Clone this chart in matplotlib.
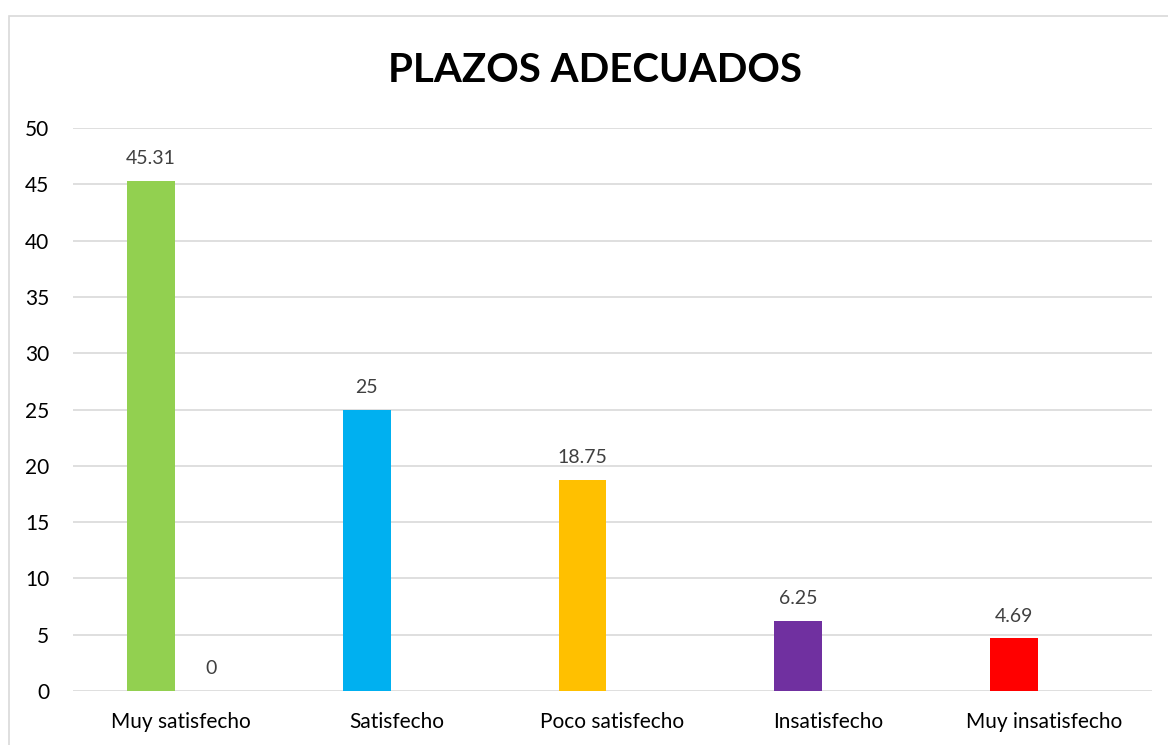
import matplotlib
matplotlib.use("Agg")
import matplotlib.pyplot as plt
from matplotlib.patches import Rectangle
import numpy as np

categories = ["Muy satisfecho", "Satisfecho", "Poco satisfecho", "Insatisfecho", "Muy insatisfecho"]
values = [45.31, 25, 18.75, 6.25, 4.69]
values2 = [0, None, None, None, None]
value_labels = ["45.31", "25", "18.75", "6.25", "4.69"]
colors = ["#92D050", "#00B0F0", "#FFC000", "#7030A0", "#FF0000"]
yticks = [0, 5, 10, 15, 20, 25, 30, 35, 40, 45, 50]

plt.rcParams['font.family'] = ['Lato', 'DejaVu Sans']

fig = plt.figure(figsize=(11.68, 7.45), dpi=100)
fig.patch.set_facecolor("white")
# chart border
fig.add_artist(Rectangle((9/1168, -0.1), 1.2, (745-16)/745 + 0.1, transform=fig.transFigure,
                         fill=False, edgecolor="#D9D9D9", linewidth=1.2))

ax = fig.add_axes([73/1168, 1 - 691/745, (1152-73)/1168, (691-128)/745])
x = np.arange(len(categories))
w = 0.222
off = 0.139
ax.bar(x - off, values, width=w, color=colors, zorder=3)
for xi, v, lab in zip(x, values, value_labels):
    ax.text(xi - off, v + 1.2, lab, ha="center", va="bottom", fontsize=14, color="#404040")
for xi, v in zip(x, values2):
    if v is not None:
        ax.bar(xi + off, v, width=w, color="#4472C4", zorder=3)
        ax.text(xi + off, v + 1.2, f"{v:g}", ha="center", va="bottom", fontsize=14, color="#404040")

ax.set_xlim(-0.5, len(categories) - 0.5)
ax.set_ylim(0, 50)
ax.set_yticks(yticks)
ax.set_yticklabels([str(t) for t in yticks], fontsize=15)
ax.set_xticks(x)
ax.set_xticklabels(categories, fontsize=15)
ax.tick_params(axis="both", length=0, colors="black")
ax.tick_params(axis="x", pad=15)
ax.tick_params(axis="y", pad=17)
ax.grid(axis="y", color="#D9D9D9", linewidth=1.2, zorder=0)
for s in ax.spines.values():
    s.set_visible(False)

fig.text(595/1168, 1 - 71/745, "PLAZOS ADECUADOS", ha="center", va="center",
         fontsize=29, fontweight="bold", color="black")

fig.savefig("out.png", dpi=100)
